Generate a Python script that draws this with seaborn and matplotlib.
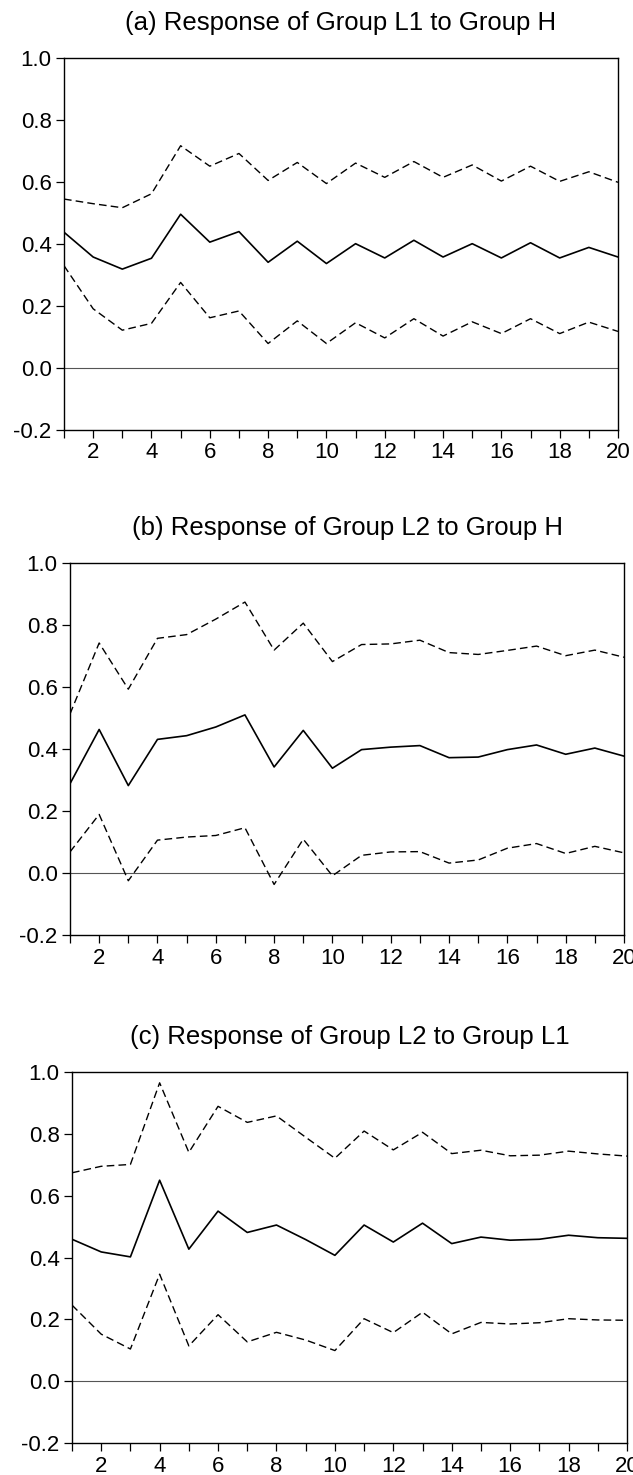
import matplotlib
matplotlib.use("Agg")
import matplotlib.pyplot as plt
import seaborn as sns
import pandas as pd

steps = list(range(1, 21))

titles = [
    "(a) Response of Group L1 to Group H",
    "(b) Response of Group L2 to Group H",
    "(c) Response of Group L2 to Group L1",
]

a_mean = [0.438, 0.358, 0.319, 0.354, 0.496, 0.406, 0.440, 0.341, 0.409, 0.337,
          0.401, 0.355, 0.412, 0.358, 0.401, 0.355, 0.404, 0.355, 0.389, 0.358]
a_upper = [0.545, 0.530, 0.517, 0.562, 0.717, 0.651, 0.692, 0.605, 0.663, 0.595,
           0.661, 0.615, 0.666, 0.615, 0.655, 0.603, 0.651, 0.602, 0.633, 0.599]
a_lower = [0.330, 0.191, 0.122, 0.144, 0.276, 0.162, 0.184, 0.079, 0.152, 0.079,
           0.146, 0.097, 0.159, 0.103, 0.149, 0.111, 0.159, 0.111, 0.148, 0.118]

b_mean = [0.288, 0.463, 0.282, 0.431, 0.443, 0.471, 0.510, 0.342, 0.460, 0.338,
          0.398, 0.406, 0.411, 0.372, 0.374, 0.398, 0.413, 0.383, 0.403, 0.377]
b_upper = [0.513, 0.742, 0.593, 0.757, 0.769, 0.819, 0.874, 0.719, 0.806, 0.682,
           0.737, 0.739, 0.751, 0.711, 0.705, 0.718, 0.732, 0.701, 0.719, 0.696]
b_lower = [0.068, 0.189, -0.025, 0.106, 0.116, 0.121, 0.146, -0.037, 0.109, -0.009,
           0.057, 0.068, 0.069, 0.032, 0.042, 0.080, 0.095, 0.063, 0.086, 0.065]

c_mean = [0.459, 0.418, 0.402, 0.650, 0.427, 0.550, 0.481, 0.505, 0.458, 0.407,
          0.505, 0.450, 0.511, 0.445, 0.466, 0.456, 0.459, 0.472, 0.464, 0.462]
c_upper = [0.674, 0.695, 0.701, 0.965, 0.740, 0.889, 0.837, 0.858, 0.789, 0.721,
           0.809, 0.748, 0.805, 0.736, 0.747, 0.729, 0.731, 0.744, 0.735, 0.728]
c_lower = [0.246, 0.152, 0.104, 0.346, 0.114, 0.215, 0.127, 0.158, 0.133, 0.099,
           0.202, 0.157, 0.223, 0.153, 0.190, 0.185, 0.189, 0.202, 0.198, 0.197]

y_ticks = [-0.2, 0.0, 0.2, 0.4, 0.6, 0.8, 1.0]
x_tick_labels = [str(s) if s % 2 == 0 else "" for s in steps]

panels = [
    (a_mean, a_upper, a_lower),
    (b_mean, b_upper, b_lower),
    (c_mean, c_upper, c_lower),
]

sns.set_theme(style="white")
plt.rcParams['font.family'] = ['Liberation Sans', 'DejaVu Sans']

W, H = 633, 1475
fig = plt.figure(figsize=(W / 100, H / 100), dpi=100)

# axes boxes in pixels: left, right, top, bottom
boxes = [(64, 618, 58, 430), (70, 624, 563, 935), (72, 627, 1072, 1443)]

for (mean, upper, lower), title, (l, r, t, b) in zip(panels, titles, boxes):
    ax = fig.add_axes([l / W, 1 - b / H, (r - l) / W, (b - t) / H])
    df = pd.DataFrame({"step": steps, "mean": mean, "upper": upper, "lower": lower})
    ax.axhline(0.0, color="#555555", lw=0.8, zorder=1)
    sns.lineplot(data=df, x="step", y="upper", ax=ax, color="black", lw=1.0,
                 linestyle=(0, (5.5, 3)))
    sns.lineplot(data=df, x="step", y="lower", ax=ax, color="black", lw=1.0,
                 linestyle=(0, (5.5, 3)))
    sns.lineplot(data=df, x="step", y="mean", ax=ax, color="black", lw=1.2)
    ax.set_xlim(1, 20)
    ax.set_ylim(-0.2, 1.0)
    ax.set_xticks(steps)
    ax.set_xticklabels(x_tick_labels)
    ax.set_yticks(y_ticks)
    ax.set_yticklabels([f"{v:.1f}" for v in y_ticks])
    ax.set_xlabel("")
    ax.set_ylabel("")
    ax.tick_params(axis="both", which="major", direction="out", length=6, width=0.9,
                   color="black", labelsize=16, labelcolor="black",
                   bottom=True, left=True, top=False, right=False)
    ax.tick_params(axis="x", pad=3)
    ax.tick_params(axis="y", pad=3)
    for sp in ax.spines.values():
        sp.set_visible(True)
        sp.set_color("black")
        sp.set_linewidth(1.0)
    ax.set_title(title, fontsize=18.5, pad=20, color="black")
    ax.set_facecolor("white")

fig.savefig("out.png", dpi=100, facecolor="white")
